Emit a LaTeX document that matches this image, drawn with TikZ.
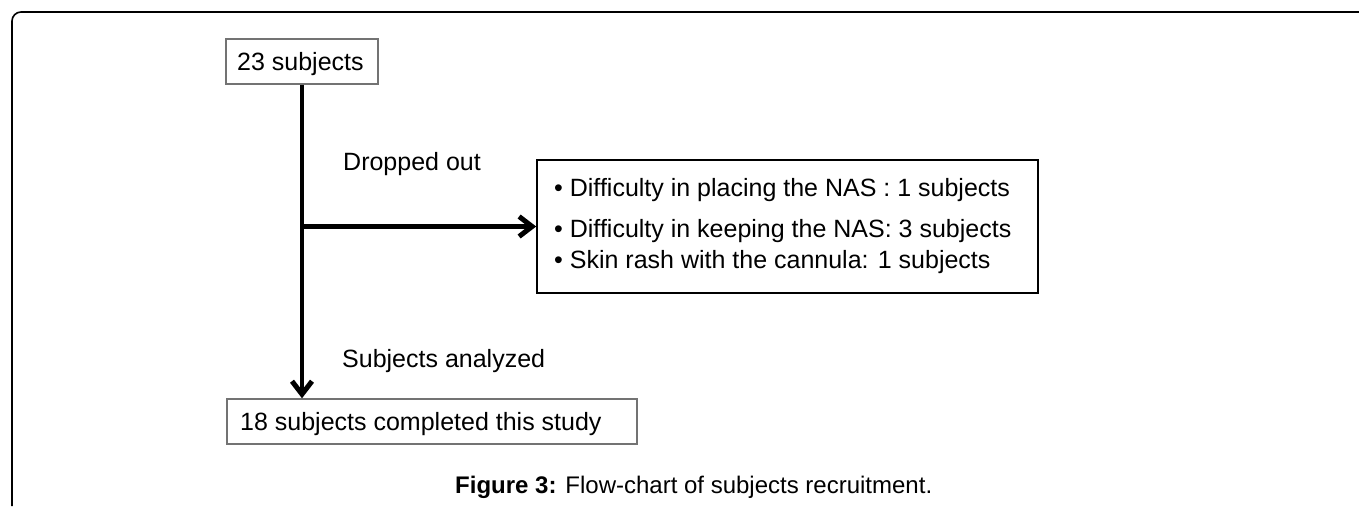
\documentclass[tikz,border=0pt]{standalone}
\usepackage{fontspec}
\setmainfont{Liberation Sans}
\usetikzlibrary{arrows.meta}
\tikzset{
  big/.style={font=\fontsize{25}{30}\selectfont},
  graybox/.style={draw=black!55, line width=1.4pt, inner sep=0pt},
  blackbox/.style={draw=black, line width=1.6pt, inner sep=0pt},
  flow/.style={line width=4.5pt, -{Straight Barb[length=13pt,width=20pt,line width=5pt]}},
}
\begin{document}
\begin{tikzpicture}[x=1pt,y=-1pt]
\useasboundingbox (0,0) rectangle (1359,506);
% outer frame
\draw[line width=1.6pt, rounded corners=9pt] (12,506) -- (12,12) -- (1359,12);
% boxes
\node[graybox, minimum width=152pt, minimum height=45pt] (top) at (302,61.5) {};
\node[big, anchor=base west, inner sep=0pt] (toptext) at (237,70) {23 subjects};
\node[graybox, minimum width=410pt, minimum height=45pt] (bot) at (432,421.5) {};
\node[big, anchor=base west, inner sep=0pt] (bottext) at (240,430) {18 subjects completed this study};
\node[blackbox, minimum width=501pt, minimum height=133pt] (drop) at (787.5,226.5) {};
\node[big, anchor=base west, inner sep=0pt] (b1) at (554,196) {• Difficulty in placing the NAS : 1 subjects};
\node[big, anchor=base west, inner sep=0pt] (b2) at (554,237) {• Difficulty in keeping the NAS: 3 subjects};
\node[big, anchor=base west, inner sep=0pt] (b3) at (554,268) {• Skin rash with the cannula: 1 subjects};
% connectors
\coordinate (split) at (top.south |- drop.west);
\draw[line width=4.5pt] (top.south) -- (split);
\draw[flow] (split) -- (drop.west);
\draw[flow] (split) -- (top.south |- bot.north);
% labels
\node[big, anchor=base west, inner sep=0pt] (l1) at (343,170) {Dropped out};
\node[big, anchor=base west, inner sep=0pt] (l2) at (342,367) {Subjects analyzed};
\node[font=\fontsize{24}{28}\selectfont, anchor=base west, inner sep=0pt] (cap) at (455,493) {\textbf{Figure 3:} Flow-chart of subjects recruitment.};
\end{tikzpicture}
\end{document}
